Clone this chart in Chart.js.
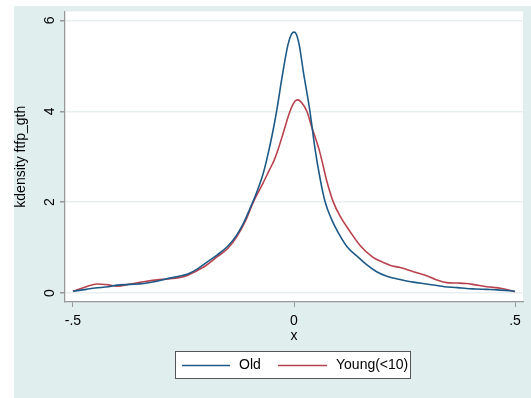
<!DOCTYPE html>
<html>
<head>
<meta charset="utf-8">
<script src="https://cdn.jsdelivr.net/npm/chart.js@4"></script>
<style>
  body { margin: 0; background: #fff; }
  #wrap { width: 531px; height: 398px; position: relative; }
</style>
</head>
<body>
<div id="wrap"><canvas id="chart"></canvas></div>
<script>
// kdensity estimates
let oldX = [-0.50, -0.47, -0.45, -0.42, -0.40, -0.37, -0.34, -0.31, -0.29, -0.26, -0.24, -0.22, -0.20, -0.175, -0.15, -0.13, -0.115, -0.10, -0.085, -0.07, -0.063, -0.05, -0.039, -0.027, -0.014, -0.005, 0.0, 0.005, 0.012, 0.021, 0.036, 0.0475, 0.059, 0.070, 0.085, 0.100, 0.12, 0.145, 0.165, 0.187, 0.21, 0.24, 0.27, 0.30, 0.34, 0.37, 0.39, 0.41, 0.436, 0.46, 0.50];
let oldY = [0.04, 0.08, 0.11, 0.14, 0.175, 0.19, 0.21, 0.26, 0.31, 0.37, 0.42, 0.52, 0.66, 0.83, 1.03, 1.27, 1.52, 1.85, 2.2, 2.62, 2.88, 3.45, 4.02, 4.75, 5.45, 5.71, 5.74, 5.70, 5.45, 4.88, 4.0, 3.18, 2.52, 2.02, 1.62, 1.33, 1.02, 0.79, 0.62, 0.47, 0.37, 0.30, 0.24, 0.20, 0.14, 0.12, 0.10, 0.09, 0.08, 0.07, 0.04];

let youngX = [-0.50, -0.47, -0.446, -0.42, -0.40, -0.37, -0.34, -0.31, -0.288, -0.26, -0.243, -0.228, -0.20, -0.175, -0.15, -0.13, -0.11, -0.092, -0.07, -0.055, -0.045, -0.037, -0.025, -0.009, 0.002, 0.009, 0.018, 0.029, 0.040, 0.057, 0.063, 0.074, 0.089, 0.105, 0.127, 0.15, 0.178, 0.20, 0.217, 0.24, 0.27, 0.30, 0.32, 0.345, 0.37, 0.39, 0.41, 0.436, 0.47, 0.50];
let youngY = [0.04, 0.14, 0.20, 0.18, 0.15, 0.20, 0.25, 0.29, 0.31, 0.34, 0.38, 0.45, 0.60, 0.79, 0.98, 1.23, 1.58, 2.0, 2.42, 2.72, 2.92, 3.13, 3.5, 4.0, 4.22, 4.25, 4.18, 4.0, 3.66, 3.15, 2.92, 2.47, 2.0, 1.68, 1.35, 1.04, 0.79, 0.68, 0.61, 0.56, 0.47, 0.38, 0.30, 0.23, 0.22, 0.21, 0.18, 0.14, 0.10, 0.03];

let xTicks = [-0.5, 0, 0.5];
let xTickText = ["-.5", "0", ".5"];
let yTicks = [0, 2, 4, 6];
let seriesNames = ["Old", "Young(<10)"];
let seriesColors = ["#1d5a87", "#b8434e"];

function pts(xs, ys) {
  return xs.map((x, i) => ({ x: x, y: ys[i] }));
}

const FONT = "Liberation Sans, Arial, sans-serif";

// backgrounds + rotated labels + legend, stata style
const stataLook = {
  id: "stataLook",
  beforeDraw(chart) {
    let ctx = chart.ctx;
    let a = chart.chartArea;
    ctx.save();
    ctx.fillStyle = "#ffffff";
    ctx.fillRect(0, 0, chart.width, chart.height);
    ctx.fillStyle = "#e1eeee";
    ctx.fillRect(14, 6, chart.width - 14, chart.height - 6);
    ctx.fillStyle = "#ffffff";
    ctx.fillRect(a.left, a.top, a.right - a.left, a.bottom - a.top);
    ctx.restore();
  },
  afterDraw(chart) {
    let ctx = chart.ctx;
    let a = chart.chartArea;
    let ys = chart.scales.y;
    ctx.save();
    ctx.fillStyle = "#000";
    ctx.font = "14px " + FONT;
    ctx.textAlign = "center";
    ctx.textBaseline = "middle";

    // y tick labels, rotated like stata
    yTicks.forEach(v => {
      let py = ys.getPixelForValue(v);
      ctx.save();
      ctx.translate(50, py);
      ctx.rotate(-Math.PI / 2);
      ctx.fillText(String(v), 0, 0);
      ctx.restore();
    });

    // y title
    ctx.save();
    ctx.translate(21, (a.top + a.bottom) / 2);
    ctx.rotate(-Math.PI / 2);
    ctx.fillText("kdensity ftfp_gth", 0, 0);
    ctx.restore();

    // x title
    ctx.fillText("x", chart.scales.x.getPixelForValue(0), 336);

    // legend box
    ctx.fillStyle = "#fff";
    ctx.fillRect(176, 351, 235, 28);
    ctx.strokeStyle = "#555";
    ctx.lineWidth = 1;
    ctx.strokeRect(175.5, 351.5, 235, 27);

    let ly = 365.5;
    let items = [
      { x1: 182, x2: 230, tx: 239 },
      { x1: 278, x2: 327, tx: 336 }
    ];
    ctx.textAlign = "left";
    items.forEach((it, i) => {
      ctx.strokeStyle = seriesColors[i];
      ctx.lineWidth = 1.5;
      ctx.beginPath();
      ctx.moveTo(it.x1, ly);
      ctx.lineTo(it.x2, ly);
      ctx.stroke();
      ctx.fillStyle = "#000";
      ctx.fillText(seriesNames[i], it.tx, ly);
    });
    ctx.restore();
  }
};

new Chart(document.getElementById("chart"), {
  type: "scatter",
  data: {
    datasets: [
      {
        label: seriesNames[0],
        data: pts(oldX, oldY),
        showLine: true,
        borderColor: seriesColors[0],
        borderWidth: 1.6,
        pointRadius: 0,
        cubicInterpolationMode: "monotone"
      },
      {
        label: seriesNames[1],
        data: pts(youngX, youngY),
        showLine: true,
        borderColor: seriesColors[1],
        borderWidth: 1.6,
        pointRadius: 0,
        cubicInterpolationMode: "monotone"
      }
    ]
  },
  options: {
    responsive: true,
    maintainAspectRatio: false,
    animation: false,
    layout: { padding: { left: 0, right: 8, top: 10, bottom: 0 } },
    plugins: {
      legend: { display: false },
      tooltip: { enabled: false }
    },
    scales: {
      x: {
        type: "linear",
        min: -0.518,
        max: 0.518,
        afterBuildTicks: s => { s.ticks = xTicks.map(v => ({ value: v })); },
        afterFit: s => { s.height = 96; },
        ticks: {
          color: "#000",
          font: { size: 14, family: FONT },
          padding: 6,
          maxRotation: 0,
          callback: (v) => xTickText[xTicks.indexOf(v)]
        },
        grid: {
          drawOnChartArea: false,
          drawTicks: true,
          tickLength: 5,
          tickColor: "#999"
        },
        border: { color: "#999", width: 1.3 }
      },
      y: {
        min: -0.197,
        max: 6.197,
        afterBuildTicks: s => { s.ticks = yTicks.map(v => ({ value: v })); },
        afterFit: s => { s.width = 65; },
        ticks: { color: "rgba(0,0,0,0)", font: { size: 14, family: FONT } },
        grid: {
          color: "#e8eff1",
          lineWidth: 1.5,
          drawTicks: true,
          tickLength: 5,
          tickColor: "#999"
        },
        border: { color: "#999", width: 1.3 }
      }
    }
  },
  plugins: [stataLook]
});
</script>
</body>
</html>
